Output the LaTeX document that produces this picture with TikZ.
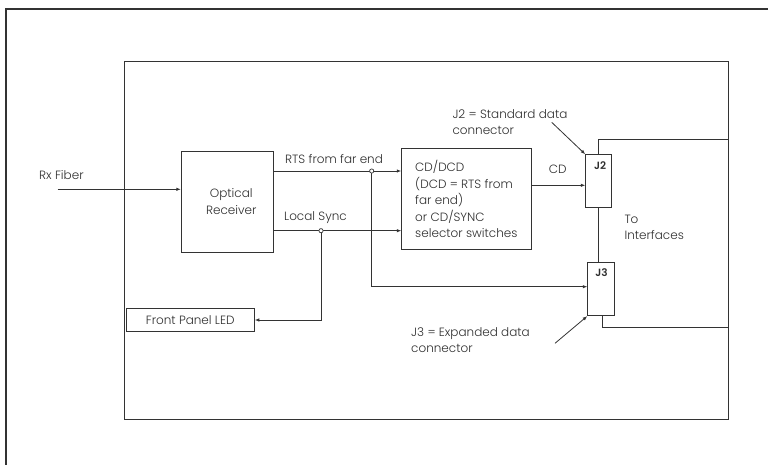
\documentclass[tikz,border=0pt]{standalone}
\usepackage{fontspec}
\setmainfont{Poppins}[UprightFont=* Light,BoldFont=* SemiBold]
\usetikzlibrary{arrows.meta,calc}
\definecolor{ink}{HTML}{333333}
\definecolor{txt}{HTML}{2E2E2E}
\tikzset{
  box/.style={draw=ink,line width=0.9pt,rectangle,inner sep=0pt,text=txt},
  wire/.style={draw=ink,line width=0.8pt},
  arr/.style={wire,-{Latex[length=4.5pt,width=3.5pt]}},
  lbl/.style={text=txt,inner sep=0pt,font=\fontsize{12}{16.5}\selectfont},
  jbox/.style={box,minimum width=26pt,minimum height=53pt},
  jlbl/.style={text=txt,font=\bfseries\fontsize{10.5}{11}\selectfont,anchor=north,inner sep=0pt},
  junc/.style={circle,draw=ink,line width=0.7pt,fill=white,minimum size=4.2pt,inner sep=0pt}
}
\begin{document}
\begin{tikzpicture}[x=1pt,y=-1pt]
\useasboundingbox (0,0) rectangle (768,464);
% outer frame (only left and top edges visible)
\draw[ink,line width=1.2pt] (6,470) -- (6,9) -- (775,9);
% inner frame
\draw[ink,line width=1pt] (124.3,61.5) rectangle (728.3,419.3);

% boxes
\node[box,minimum width=92pt,minimum height=101.3pt,lbl,align=center] (opt) at (227.3,201.6) {\hspace*{8pt}Optical\\\hspace*{8pt}Receiver};
\node[box,minimum width=129.3pt,minimum height=100.6pt,lbl,align=left] (cd) at (466.35,199) {CD/DCD\\(DCD = RTS from\\far end)\\or CD/SYNC\\selector switches};
\node[jbox] (j2) at (598.7,181.2) {};
\node[jbox,minimum width=26.6pt,minimum height=53.4pt] (j3) at (601,289) {};
\node[jlbl] (j2l) at ($(j2.north)+(1.5,7)$) {J2};
\node[jlbl] (j3l) at ($(j3.north)+(0.5,7)$) {J3};
\node[box,minimum width=128.3pt,minimum height=23.4pt,lbl] (led) at (190.2,320) {Front Panel LED};

% labels
\node[lbl,anchor=west] (rx) at (39,175) {Rx Fiber};
\node[lbl,anchor=base west] (rts) at (285,163.7) {RTS from far end};
\node[lbl,anchor=base west] (ls) at (284,220.5) {Local Sync};
\node[lbl] (cdl) at (557.7,169.3) {CD};
\node[lbl,anchor=west,align=left] (toif) at (624.3,227.2) {To\\Interfaces};
\node[lbl,anchor=west,align=left] (j2t) at (452.3,122.2) {J2 = Standard data\\connector};
\node[lbl,anchor=west,align=left] (j3t) at (411,340.3) {J3 = Expanded data\\connector};

% coordinates
\coordinate (rxs) at (57.7,189.3);
\coordinate (rtsj) at (371.7,171);
\coordinate (lsj) at (321,230.7);
\coordinate (br) at (371.7,286.7);
\coordinate (cdy) at (531,185.3);
\coordinate (topbr) at (728.3,139.3);
\coordinate (botbr) at (728.3,327.7);
\coordinate (a2) at (551.7,122.3);
\coordinate (a3) at (555,343.3);

% connectors
\draw[arr] (rxs) -- (rxs -| opt.west);
\draw[arr] (rtsj -| opt.east) -- (rtsj -| cd.west);
\draw[arr] (lsj -| opt.east) -- (lsj -| cd.west);
\draw[arr] (rtsj) -- (br) -- (br -| j3.west);
\draw[arr] (lsj) -- (lsj |- led.east) -- (led.east);
\draw[arr] (cdy) -- (cdy -| j2.west);
\draw[wire] (j2.north) |- (topbr);
\draw[wire] (j2.south) -- (j2.south |- j3.north);
\draw[wire] ($(j3.south)+(1.3,0)$) |- (botbr);
\draw[arr] (a2) -- (j2.north west);
\draw[arr] (a3) -- (j3.south west);
\node[junc] (c1) at (rtsj) {};
\node[junc] (c2) at (lsj) {};
\end{tikzpicture}
\end{document}
